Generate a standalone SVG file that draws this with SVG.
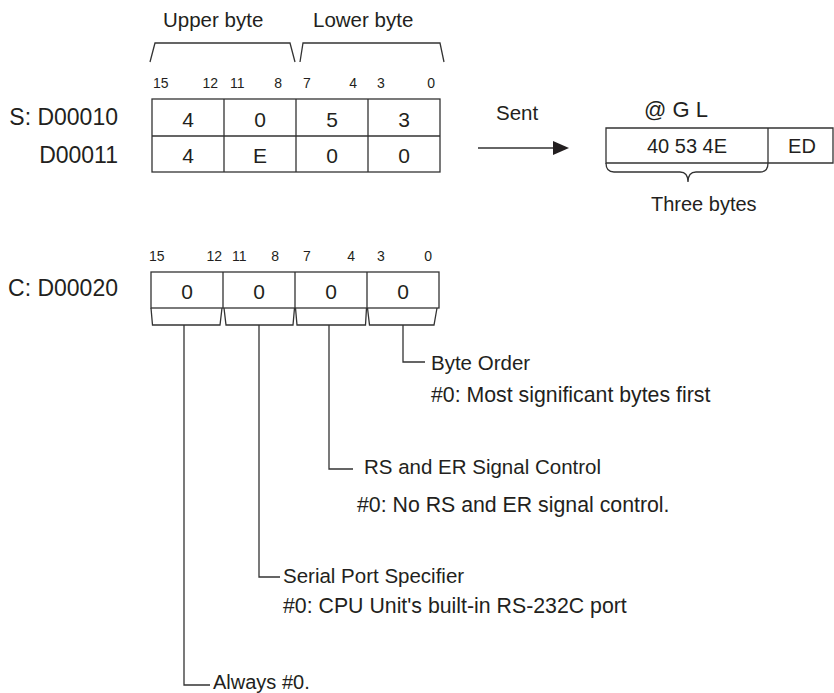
<svg xmlns="http://www.w3.org/2000/svg" width="834" height="693" viewBox="0 0 834 693">
<style>
text{font-family:"Liberation Sans",Arial,sans-serif;fill:#231f20}
.lbl{font-size:23px}
.dig{font-size:21px;text-anchor:middle}
.bit{font-size:14px}
.t{font-size:20.5px}
.d{font-size:21.3px}
.ln{fill:none;stroke:#333;stroke-width:1.3}
</style>
<rect width="834" height="693" fill="#fff"/>
<g id="brackets">
<path class="ln" d="M150,62 L155,43 L290,43 L295,62"/>
<path class="ln" d="M300,62 L303,43 L440,43 L444,62"/>
<text class="t" x="163" y="27">Upper byte</text>
<text class="t" x="313" y="27">Lower byte</text>
</g>
<g id="s-table">
<g class="bit">
<text x="153" y="88">15</text><text x="218" y="88" text-anchor="end">12</text>
<text x="230" y="88">11</text><text x="282" y="88" text-anchor="end">8</text>
<text x="303" y="88">7</text><text x="357" y="88" text-anchor="end">4</text>
<text x="377" y="88">3</text><text x="435" y="88" text-anchor="end">0</text>
</g>
<text class="lbl" x="118" y="125" text-anchor="end">S: D00010</text>
<text class="lbl" x="118" y="163" text-anchor="end">D00011</text>
<rect class="ln" x="152" y="99" width="288" height="73"/>
<path class="ln" d="M152,136 H440 M224,99 V172 M296,99 V172 M368,99 V172"/>
<text class="dig" x="188" y="127">4</text><text class="dig" x="260" y="127">0</text>
<text class="dig" x="332" y="127">5</text><text class="dig" x="404" y="127">3</text>
<text class="dig" x="188" y="163">4</text><text class="dig" x="260" y="163">E</text>
<text class="dig" x="332" y="163">0</text><text class="dig" x="404" y="163">0</text>
</g>
<g id="sent">
<text class="t" x="496" y="120">Sent</text>
<line class="ln" x1="478" y1="148" x2="555" y2="148"/>
<polygon points="553,141 569,148 553,155" fill="#231f20"/>
</g>
<g id="bytes-box">
<text class="t" style="font-size:22px" x="644" y="117">@ G L</text>
<path class="ln" d="M606,128 H833 V163 H606 Z M768,128 V163"/>
<text class="t" text-anchor="middle" style="font-size:20px" x="687" y="153">40 53 4E</text>
<text class="t" text-anchor="middle" style="font-size:20px" x="802" y="153">ED</text>
<path class="ln" d="M606,163 Q606,172 614,172 H680 Q688,172 688,182 Q688,172 696,172 H760 Q768,172 768,163"/>
<text class="t" style="font-size:20px" x="651" y="211">Three bytes</text>
</g>
<g id="c-table">
<g class="bit">
<text x="149" y="261">15</text><text x="222" y="261" text-anchor="end">12</text>
<text x="232" y="261">11</text><text x="279" y="261" text-anchor="end">8</text>
<text x="303" y="261">7</text><text x="355" y="261" text-anchor="end">4</text>
<text x="377" y="261">3</text><text x="432" y="261" text-anchor="end">0</text>
</g>
<text class="lbl" x="118" y="296" text-anchor="end">C: D00020</text>
<rect class="ln" x="151" y="272" width="288" height="36"/>
<path class="ln" d="M223,272 V308 M295,272 V308 M367,272 V308"/>
<text class="dig" x="187" y="299">0</text><text class="dig" x="259" y="299">0</text>
<text class="dig" x="331" y="299">0</text><text class="dig" x="403" y="299">0</text>
<path class="ln" d="M151,308 L152.5,325 H220 L222,308"/>
<path class="ln" d="M224,308 L226,325 H293 L294.5,308"/>
<path class="ln" d="M295.5,308 L297,325 H365.5 L366.5,308"/>
<path class="ln" d="M367.5,308 L369.5,325 H434 L437,308"/>
</g>
<g id="connectors">
<path class="ln" d="M403,325 V362 H425"/>
<path class="ln" d="M329,325 V469 H353"/>
<path class="ln" d="M259,325 V577 H280"/>
<path class="ln" d="M184,325 V685 H210"/>
</g>
<g id="byte-order">
<text class="t" x="431" y="370">Byte Order</text>
<text class="d" x="431" y="402">#0: Most significant bytes first</text>
</g>
<g id="rs-er">
<text class="t" x="364" y="474">RS and ER Signal Control</text>
<text class="d" x="357" y="512">#0: No RS and ER signal control.</text>
</g>
<g id="serial-port">
<text class="t" x="283" y="583">Serial Port Specifier</text>
<text class="d" x="283" y="613">#0: CPU Unit's built-in RS-232C port</text>
</g>
<g id="always">
<text class="t" style="font-size:20px" x="213" y="689">Always #0.</text>
</g>
</svg>
